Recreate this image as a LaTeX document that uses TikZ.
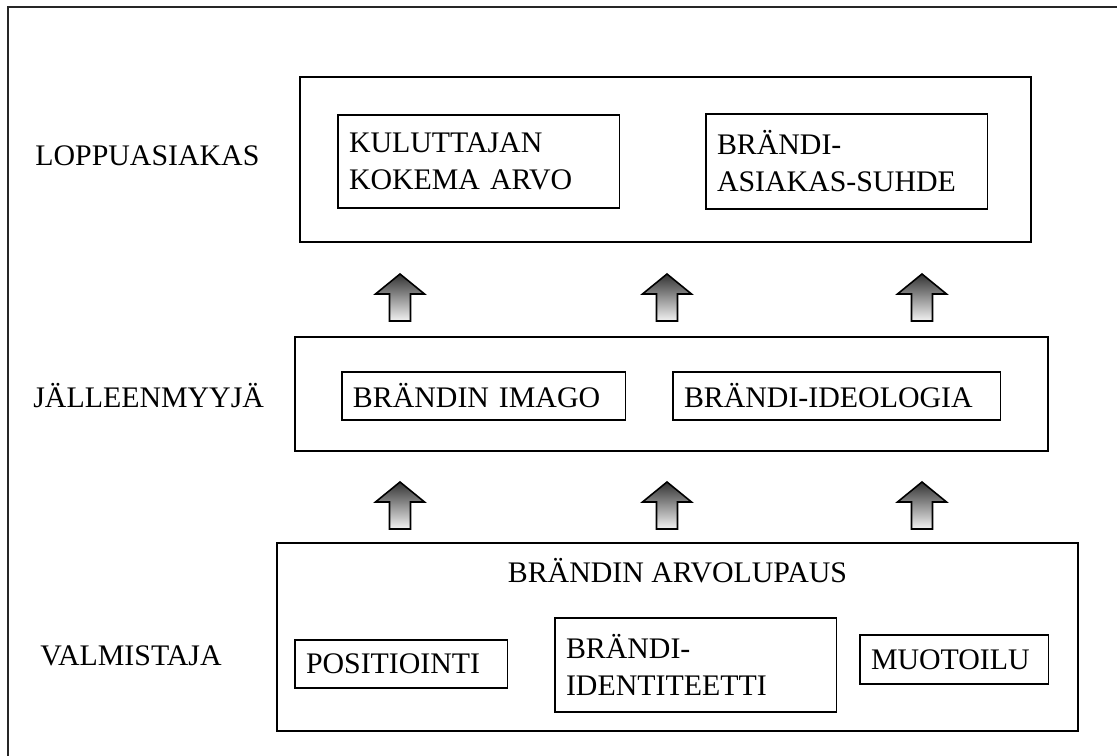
\documentclass[tikz,border=0pt]{standalone}
\usepackage{fontspec}
\setmainfont{Liberation Serif}
\usetikzlibrary{positioning}

\tikzset{
  groupbox/.style={draw, line width=1.3pt, anchor=north west, inner sep=0pt, outer sep=0pt},
  inbox/.style={draw, line width=0.6pt, anchor=north west, align=left, inner xsep=0.22cm, inner ysep=0pt, outer sep=0pt},
  layerlabel/.style={anchor=base west, inner sep=0pt},
  arrowshade/.style={draw=black, line width=0.9pt, top color=black!80, bottom color=black!5, line join=miter}
}

% block arrow, tip at (#1,#2)
\newcommand{\blockarrow}[2]{%
  \shade[arrowshade] (#1,#2) -- ++(24.5,20) -- ++(-14,0) -- ++(0,27) -- ++(-21,0) -- ++(0,-27) -- ++(-14,0) -- cycle;}

\begin{document}
\begin{tikzpicture}[x=0.02cm, y=-0.02cm, font=\fontsize{17pt}{21pt}\selectfont]
    \clip (0,0) rectangle (1117,756);
    % outer frame
    \draw[line width=1pt, black!85] (8,7) rectangle (1140,780);

    % layer labels
    \node[layerlabel] (lbl1) at (35,166) {LOPPUASIAKAS};
    \node[layerlabel] (lbl2) at (33,408) {JÄLLEENMYYJÄ};
    \node[layerlabel] (lbl3) at (40,666) {VALMISTAJA};

    % Loppuasiakas
    \node[groupbox, minimum width=14.62cm, minimum height=3.30cm] (loppu) at (300,77) {};
    \node[inbox, text width=5.20cm, minimum height=1.86cm] (kokema) at (338,115) {KULUTTAJAN\\KOKEMA ARVO};
    \node[inbox, text width=5.20cm, minimum height=1.90cm] (suhde) at (706,114) {BRÄNDI-\\ASIAKAS-SUHDE};

    % Jalleenmyyja
    \node[groupbox, minimum width=15.06cm, minimum height=2.28cm] (jalleen) at (295,337) {};
    \node[inbox, text width=5.24cm, minimum height=0.96cm] (imago) at (342,372) {BRÄNDIN IMAGO};
    \node[inbox, text width=6.12cm, minimum height=0.96cm] (ideologia) at (673,372) {BRÄNDI-IDEOLOGIA};

    % Valmistaja
    \node[groupbox, minimum width=16.02cm, minimum height=3.76cm] (valmis) at (277,543) {};
    \node[anchor=base, inner sep=0pt] (lupaus) at (677.5,583) {BRÄNDIN ARVOLUPAUS};
    \node[inbox, text width=3.82cm, minimum height=0.96cm] (positiointi) at (295,640) {POSITIOINTI};
    \node[inbox, text width=5.20cm, minimum height=1.88cm] (identiteetti) at (555,618) {BRÄNDI-\\IDENTITEETTI};
    \node[inbox, text width=3.34cm, minimum height=0.98cm] (muotoilu) at (860,635) {MUOTOILU};

    % arrows between layers
    \foreach \ax in {400,667,922} {
        \foreach \ay in {274,482} {
            \blockarrow{\ax}{\ay}
        }
    }
\end{tikzpicture}
\end{document}
